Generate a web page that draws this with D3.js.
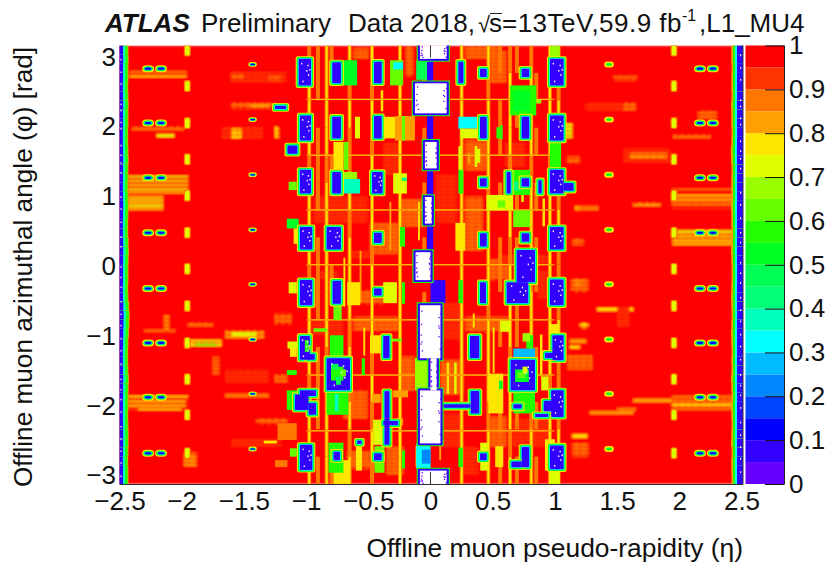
<!DOCTYPE html>
<html><head><meta charset="utf-8">
<script src="https://cdn.jsdelivr.net/npm/d3@7"></script>
<style>
html,body{margin:0;background:#fff}
svg{display:block}
text{font-family:"Liberation Sans",Arial,sans-serif;fill:#111}
</style></head><body>
<svg id="c" width="833" height="562"></svg>
<script>
const palette=["#6600ff","#3300ff","#0000ff","#0044ff","#0088ff","#00bbff","#00ffff","#00ffbb","#00ff77","#00ff55",
"#00ff22","#22ff00","#66ff00","#99ff00","#dfff00","#ffe600","#ffa000","#ff7700","#ff3300","#ff0000"];
const etaTicks=[-2.5,-2,-1.5,-1,-0.5,0,0.5,1,1.5,2,2.5];
const phiTicks=[-3,-2,-1,0,1,2,3];
const effTicks=[0,0.1,0.2,0.3,0.4,0.5,0.6,0.7,0.8,0.9,1];

// every entry: eta0, eta1, phi0, phi1, efficiency
const forwardStreaks=[
[-2.43,-1.95,1.02,1.28,.9],[-2.43,-2.15,.79,.99,.9],
[-2.43,-1.95,1.25,1.27,.72],[-2.43,-1.95,1.19,1.21,.72],[-2.43,-1.95,1.13,1.15,.75],[-2.43,-1.95,1.07,1.09,.72],[-2.43,-1.95,1.03,1.045,.78],
[-2.43,-2.15,.96,.98,.75],[-2.43,-2.15,.92,.94,.72],[-2.43,-2.15,.88,.9,.75],[-2.43,-2.15,.83,.86,.72],[-2.43,-2.15,.79,.81,.78],
[-2.42,-1.96,2.75,2.77,.8],[-2.42,-1.96,2.69,2.71,.78],[-2.2,-2.06,1.83,1.87,.72],[-2.4,-1.98,1.92,1.98,.88],
[-2.43,-1.95,-2.08,-1.87,.9],[-2.43,-1.95,-1.9,-1.88,.78],[-2.43,-1.97,-1.97,-1.95,.75],[-2.43,-1.97,-2.03,-2.01,.78],[-2.35,-2,-2.08,-2.06,.75],
[-1.97,-1.68,-1.18,-1.08,.75],[-1.9,-1.72,-1.17,-1.1,.62],[-1.65,-1.34,-1.06,-.94,.8],[-1.6,-1.4,-1.02,-.97,.72],[-1.95,-1.75,-.89,-.82,.88],
[-1.61,-1.16,2.62,2.76,.9],[-1.6,-1.5,2.66,2.74,.85],[-1.3,-1.2,2.64,2.7,.87],[-1.6,-1.25,2.24,2.33,.88],[-1.45,-1.3,2.26,2.3,.8],
[-1.68,-1.35,1.81,1.97,.9],[-1.6,-1.52,1.8,1.95,.75],[-1.25,-1.22,1.82,1.98,.76],[-1.65,-1.3,-1.68,-1.5,.9],[-1.25,-1.15,-1.68,-1.58,.85],
[-1.4,-1.15,-2.28,-2.2,.87],[-1.6,-1.2,-2.62,-2.5,.9],[-2.3,-2.05,-.96,-.93,.85],[-2.14,-2.1,-.95,-.72,.8],
[-1.75,-1.7,-1.58,-1.32,.85],[-1.25,-1.12,-.85,-.7,.88],[-1.65,-1.3,-1.9,-1.85,.85],[-1.98,-1.88,-2.9,-2.7,.8],
[1.55,1.93,1.47,1.66,.9],[1.6,1.9,1.52,1.6,.8],[1.94,2.43,.8,1.02,.9],[1.94,2.43,.98,1,.78],[1.94,2.43,.92,.94,.78],[1.94,2.43,.86,.88,.8],[1.94,2.43,1.07,1.09,.85],
[1.94,2.43,.28,.49,.85],[1.95,2.43,.46,.49,.72],[1.95,2.43,.4,.42,.75],[1.95,2.43,.34,.36,.75],[1.95,2.43,.29,.31,.78],
[1.63,1.85,.83,.9,.84],[1.25,1.63,2.21,2.33,.9],[1.55,1.65,2.2,2.32,.85],[1.47,1.66,2.64,2.7,.87],[1.1,1.2,1.45,1.55,.85],
[1.63,2.43,-1.97,-1.92,.8],[1.94,2.43,-2.08,-1.88,.88],[1.94,2.43,-2.02,-1.99,.78],[1.34,1.63,-.66,-.62,.78],[1.28,1.63,-2.14,-2.1,.8],
[1.13,1.27,-.39,-.2,.87],[1.15,1.22,-.32,-.22,.8],[1.2,1.27,-.91,-.82,.78],[1.12,1.25,-1.12,-1.07,.8],[1.12,1.2,-1.2,-1.16,.75],
[1.14,1.27,-2.75,-2.55,.85],[1.14,1.26,-2.48,-2.43,.76],[1.1,1.3,-1.5,-1.3,.88],[1.5,1.6,-.9,-.6,.9],[1.5,1.65,-2.1,-2.05,.85],
[1.14,1.23,.28,.38,.85],[1.2,1.35,.78,.84,.88],[1.16,1.2,.78,.84,.8],[1.07,1.14,1.82,2.02,.72],[1.95,2.25,1.8,1.86,.86],[2.15,2.3,2.1,2.2,.87]
];
const forwardStubs=[-1.955,1.957];
const stubPhis=[3.07,2.56,2.03,1.51,.99,.46,-.06,-.59,-1.12,-1.64,-2.15,-2.7];
const spotEtas=[-2.27,-2.166,2.166,2.27];
const spotPhis=[2.81,2.03,1.245,.457,-.34,-1.12,-1.9,-2.7];
const midSpotPhis=[2.87,2.08,1.29,.5,-.28,-1.07,-1.85,-2.64];

const orangeBands=[
[-.245,-.045,.55,.93,.88],[-.486,-.245,.16,.59,.88],[-.94,-.51,.6,.97,.92],[.05,.21,.6,1.3,.9],[.28,.45,1.36,1.78,.87],
[.48,.61,2.6,3.07,.87],[.28,.42,.2,.97,.87],[.465,.625,-.22,.07,.87],[.08,.24,-1.08,-.56,.9],[.28,.62,-.96,-.75,.86],
[.08,.264,-1.85,-1.37,.87],[.08,.264,-2.6,-2.13,.9],[.48,.61,-2.6,-2.18,.87],[.264,.385,-3,-2.6,.9],[-.62,-.245,-.94,-.75,.86],
[-.245,-.125,-1.8,-1.32,.86],[-.62,-.38,-.56,-.37,.87],[-.35,-.22,-3,-2.6,.87],[-.7,-.51,-2.2,-1.8,.87],[-.67,-.38,-2.92,-2.68,.87],
[-.62,-.5,2.95,3.1,.87],[-.38,-.24,1.3,1.75,.92],[-.65,-.47,.1,.2,.9],[-.9,-.75,-.2,-.1,.9],[.55,.95,.0,.15,.92],[.28,.55,2.95,3.14,.88],
[.86,.96,-.5,-.1,.9],[.66,.96,-2.6,-2.2,.92],[-.96,-.7,-1,-.8,.9],[-.2,-.14,2.7,3.14,.87],[.6,.76,1.4,1.75,.92]
];
const ridgeEtas=[-.975,-.905,-.835,-.795,-.65,-.47,-.245,-.05,.25,.465,.56,.64,.695,.81,.85,.96,1.03];
// one mark per 16th of phi from -pi upward: 2 yellow core, 1 orange only, 0 no ridge
const ridgeMasks=["2221222122212221","1011101110111011","2222122222212222","1001000100010001",
"2121212221211212","1212122212221212","2222222222222222","1010101010101010","2222222222222222",
"2212221222122212","1011010110101101","2122122212212221","1010011010100101","2212222122212221",
"1010100110101010","2221222222212222","1211121112111211"];
const partialRidges=[
[-.7,-.685,-.6,.1,.78],[-.57,-.555,-.55,.2,.8],[-.33,-.315,.2,.9,.8],[-.54,-.525,-1.3,-.9,.76],[.13,.15,-1.85,-1.4,.75],[.19,.21,-1.85,-1.4,.72],
[.07,.085,-2.8,-2.6,.8],[.355,.375,1.4,1.7,.72],[.3,.32,1.45,1.6,.8],[.5,.515,-1.55,-.9,.78],[-.12,-.105,-2.9,-2.6,.75],[-.1,-.085,.35,.9,.78],
[.56,.58,1.8,2,.55],[.34,.355,-.9,-.7,.75],[.73,.75,.9,1,.7],[.88,.9,-1.6,-1,.75],[.9,.92,.55,.95,.75],[-.34,-.32,-.55,-.3,.72],[-.4,-.38,2.2,2.5,.78]
];
const lineRows=[2.37,1.57,.785,0,-.79,-1.58,-2.38];
const patches=[
[.64,.85,2.14,2.57,.58],[.66,.8,2.2,2.5,.5],[.85,.89,2.31,2.37,.68],[.224,.384,1.95,2.12,.34],[.24,.384,1.81,1.95,.72],[.53,.56,1.81,1.97,.58],
[.586,.8,1.0,1.36,.55],[.65,.73,1.06,1.2,.4],[.45,.665,.78,1,.74],[.665,.8,.54,.78,.62],[.54,.6,.82,.92,.6],[.224,.264,.26,.54,.5],[.2,.28,.2,.6,.78],
[.224,.264,1.02,1.36,.55],[.224,.25,1.36,1.7,.7],[.36,.4,1.46,1.66,.7],[.96,1.05,1.36,1.78,.56],[.96,1.04,2.95,3.14,.68],[.96,1.04,-3.14,-2.95,.72],
[.666,.84,-2.13,-1.8,.56],[.666,.84,-1.36,-1.2,.28],[.77,.825,-1.2,-1.01,.56],[.465,.585,-2.13,-1.56,.78],[.55,.58,-1.78,-1.66,.5],[.89,.947,-1.8,-1.6,.72],
[.56,.64,-.96,-.8,.74],[.224,.26,-.55,-.22,.58],[.224,.26,-2.9,-2.62,.58],[.52,.585,-2.9,-2.6,.78],[.4,.46,-2.95,-2.55,.72],
[.74,.8,-1.1,-.98,.65],[.96,1.03,-1.05,-.85,.75],[.92,1,-2.95,-2.5,.78],
[-.81,-.59,2.57,2.93,.52],[-.714,-.566,1.02,1.23,.36],[-.714,-.59,1.23,1.33,.66],[-.325,-.22,2.57,2.93,.62],[-.3,-.22,2.8,2.9,.34],[-.285,-.125,1.78,2.13,.8],[-.23,-.205,1.78,2.13,.6],
[-.607,-.567,1.81,2.12,.72],[-.38,-.285,1.81,2.12,.78],[-.7,-.66,1.36,1.76,.6],[-.78,-.7,1.36,1.76,.78],[-.3,-.19,1.02,1.31,.72],[-.23,-.19,1.2,1.25,.4],
[-1.14,-1.075,1.07,1.19,.62],[-1.155,-1.06,.52,.66,.52],[-1.1,-1.07,.3,.52,.76],[-.245,-.205,.26,.54,.55],[-.115,0,2.65,2.93,.45],[-.125,-.0,-1.8,-1.34,.68],[-.115,0,-2.92,-2.56,.3],[-.07,0,-2.85,-2.65,.2],
[-1.14,-1.075,-.41,-.25,.72],[-1.155,-1.075,-1.58,-1.51,.56],[-1.155,-1.05,-2.08,-1.8,.56],[-1.13,-1.075,-1.32,-1.18,.76],[-1.23,-1.075,-2.51,-2.27,.86],[-1.34,-1.235,-2.56,-2.52,.76],
[-1.25,-1.15,-2.9,-2.8,.86],[-1.13,-1.075,-2.75,-2.63,.62],[-.94,-.83,-.96,-.91,.6],[-.81,-.7,-1.34,-1.01,.56],[-.835,-.66,-2.15,-1.8,.56],[-.77,-.74,-2.1,-1.85,.36],
[-.78,-.714,-.79,-.56,.62],[-.78,-.647,-3.14,-2.8,.76],[-.67,-.567,-.58,-.25,.78],[-.38,-.27,-.55,-.25,.72],[-.23,-.205,-.56,-.25,.55],[-.553,-.527,-1.58,-1.34,.56],
[-.325,-.23,-1.1,-1.06,.6],[-.486,-.38,-1.27,-1.01,.76],[-.46,-.38,-2.58,-2.22,.72],[-.45,-.37,-2.98,-2.6,.62],[-.23,-.205,-2.92,-2.66,.56],[-.82,-.7,-2.98,-2.55,.56],
[-.3,-.18,-1.9,-1.8,.8],[-1.15,-1.07,-1.2,-1.1,.72],[-.28,-.22,-2.3,-2.2,.8],[-.47,-.4,-1.98,-1.85,.8],[-.6,-.55,-2.95,-2.6,.78]
];
const wells=[
[-1.06,-.96,2.57,2.95],[-1.05,-.96,1.78,2.14],[-1.05,-.96,1.02,1.36],[-1.05,-.95,.22,.54],[-1.05,-.95,-.58,-.22],[-1.05,-.97,-1.36,-1.02],[-.99,-.93,-1.36,-1.28],
[-1.09,-.98,-2.08,-1.86],[-1.05,-.92,-1.88,-1.8],[-.98,-.92,-2.15,-1.98],[-1.05,-.95,-2.94,-2.58],
[-.79,-.72,2.6,2.9],[-.79,-.72,1.81,2.12],[-.79,-.72,1.02,1.33],[-.835,-.72,.22,.54],[-.787,-.72,-.56,-.23],[-.835,-.647,-1.8,-1.34],[-.78,-.727,-2.8,-2.68],
[-.454,-.392,2.6,2.91],[-.454,-.392,1.81,2.13],[-.47,-.385,1.02,1.33],[-.454,-.392,.31,.46],[-.454,-.392,-.44,-.34],[-.38,-.33,-1.34,-1.02],[-.37,-.33,-2.58,-1.81],
[-.38,-.26,-2.3,-2.24],[-.454,-.392,-2.8,-2.7],[-.59,-.553,-2.57,-2.52],[-1.15,-1.07,1.59,1.71],[-1.25,-1.16,2.23,2.28],
[.96,1.07,2.57,2.95],[.96,1.07,1.78,2.14],[.96,1.07,1.02,1.36],[1.07,1.15,1.06,1.17],[.96,1.07,.22,.54],[.96,1.07,-.58,-.21],[.98,1.07,-1.37,-1.01],[.92,.99,-1.34,-1.26],
[.97,1.07,-2.18,-1.8],[.91,.99,-2.1,-1.95],[.96,1.07,-2.93,-2.59],
[.733,.794,2.69,2.81],[.733,.794,1.81,2.12],[.733,.794,1.12,1.24],[.733,.794,.33,.45],
[.398,.452,2.69,2.81],[.398,.452,1.81,2.12],[.398,.452,1.12,1.24],[.398,.452,.26,.45],[.224,.264,2.6,2.91],[.612,.644,1.02,1.33],[.867,.894,1.02,1.21],
[.612,.786,-.55,-.25],[.693,.84,-.25,.21],[.398,.446,-.55,-.25],[.317,.392,-1.34,-1.02],[.323,.392,-2.13,-1.81],[.398,.452,-2.8,-2.7],[.733,.794,-2.9,-2.61],[.65,.733,-2.9,-2.82],
[.644,.84,-1.8,-1.36],[.666,.733,-2.06,-2],[.84,.947,-2.18,-2.14],[.1,.32,-2.05,-2]
];
const wellInterior=[
[-.8,-.7,-1.66,-1.46,.55],[-.76,-.72,-1.72,-1.6,.45],[-.72,-.68,-1.6,-1.5,.6],[-.8,-.74,-1.5,-1.42,.45],
[.68,.79,-1.68,-1.5,.5],[.7,.76,-1.62,-1.54,.62],[.74,.78,-1.55,-1.46,.7],
[-1.01,-.98,-1.25,-1.08,.55],[-.98,-.95,-1.22,-1.16,.6]
];
const deadZones=[
[-.085,.13,2.95,3.15],[-.125,.13,2.17,2.6],[-.045,.05,1.38,1.76],[-.045,.01,.59,.97],[-.12,0,-.22,.18],
[-.085,.08,-1.34,-.58],[0,.05,-1.8,-1.34],[-.085,.08,-2.56,-1.8],[-.085,.13,-3.15,-2.95]
];
const centreStrip=[[-.028,.022,.18,2.95],[0,.02,-.22,.0],[0,.12,-.55,-.22]];
const speckleSpots=[[.2,.15],[.45,.1],[.7,.22],[.35,.35],[.6,.42],[.25,.55],[.75,.58],[.5,.68],[.3,.82],[.65,.85],[.85,.38],[.15,.72]];
const edgeLeft=[6,6,5,6,7,7,6,5,6,6,7,8,6,5,5,6,8,10,11,9,6,5,6,6,7,8,7,5,5,6,7,6,5,6,6,7,6,5,5,6,6,7,6,5,6,6,7,6];
const edgeRight=[5,6,6,5,7,6,5,6,7,5,6,7,5,6,5,6,7,6,5,6,7,6,5,5,6,7,6,5,6,6,7,5,6,6,5,7,8,6,5,6,6,7,5,6,6,5,6,6];
const edgeSpeckles=[2.95,2.77,2.6,2.31,2.22,2.05,1.96,1.72,1.58,1.47,1.33,.98,.81,.62,.41,.27,-.02,-.17,-.31,-.52,-.7,-.86,-1.05,-1.22,-1.41,-1.63,-1.78,-1.92,-2.1,-2.31,-2.49,-2.66,-2.83,-3.02];

const svg=d3.select("#c");
const x=d3.scaleLinear().domain([-2.5,2.5]).range([119.5,741.5]);
const y=d3.scaleLinear().domain([-Math.PI,Math.PI]).range([484,45.5]);
const z=d3.scaleLinear().domain([0,1]).range([484,45.5]);
const color=d3.scaleQuantize().domain([0,1]).range(palette);

const defs=svg.append("defs");
function blur(id,sd){
  defs.append("filter").attr("id",id).attr("filterUnits","userSpaceOnUse").attr("x",100).attr("y",30).attr("width",660).attr("height",470)
    .append("feGaussianBlur").attr("stdDeviation",sd);
}
blur("soft",0.75);blur("softer",1.3);
defs.append("clipPath").attr("id","plot").append("rect").attr("x",119.5).attr("y",45.5).attr("width",623.5).attr("height",438.5);

// fine rows of a measured colour over the red of the full bins
function rows(v){
  const id="rows"+Math.round(v*100);
  if(defs.select("#"+id).empty()){
    const p=defs.append("pattern").attr("id",id).attr("patternUnits","userSpaceOnUse").attr("width",7).attr("height",4);
    p.append("rect").attr("width",7).attr("height",4).attr("fill",color(.99));
    p.append("rect").attr("width",7).attr("height",2).attr("y",0).attr("fill",color(v));
    p.append("rect").attr("x",2).attr("width",2).attr("height",1).attr("y",3).attr("fill",color(v));
  }
  return `url(#${id})`;
}

const root=svg.append("g").attr("clip-path","url(#plot)");
let map=root.append("g").attr("filter","url(#softer)");
function box(e0,e1,p0,p1,fill,rx){
  map.append("rect").attr("x",x(e0)).attr("y",y(p1)).attr("width",x(e1)-x(e0)).attr("height",y(p0)-y(p1)).attr("fill",fill).attr("rx",rx||0);
}
function cell(r){box(r[0],r[1],r[2],r[3],color(r[4]));}
function stripe(r){box(r[0],r[1],r[2],r[3],(r[3]-r[2])>.06?rows(r[4]):color(r[4]));}
function halo(r,layers,rx){
  layers.forEach(([pad,v])=>box(r[0]-pad,r[1]+pad,r[2]-pad*1.6,r[3]+pad*1.6,color(v),rx));
}
const PI=Math.PI;
box(-2.6,2.6,-PI,PI,color(.99));
forwardStreaks.forEach(stripe);
orangeBands.forEach(stripe);

map=root.append("g").attr("filter","url(#soft)");
forwardStubs.forEach(e=>stubPhis.forEach(p=>{
  halo([e-.018,e+.018,p-.07,p+.07],[[.01,.85],[0,.73]],2);
}));
spotEtas.forEach(e=>spotPhis.forEach(p=>{
  halo([e-.026,e+.026,p-.015,p+.015],[[.022,.76],[.013,.5],[.006,.28],[0,.1]],4);
}));
midSpotPhis.forEach(p=>{
  halo([-1.45,-1.41,p-.012,p+.012],[[.014,.76],[.006,.4],[0,.12]],3);
  halo([1.41,1.46,p-.02,p+.02],[[.014,.76],[0,.52]],3);
});
const sector=d3.scaleBand().domain(d3.range(16)).range([-PI,PI]);
ridgeEtas.forEach((e,i)=>{
  [...ridgeMasks[i]].forEach((m,s)=>{
    const p0=sector(s),p1=p0+sector.bandwidth();
    if(m==="0")return;
    box(e-.016,e+.016,p0,p1,color(.87));
    if(m==="2")box(e-.008,e+.008,p0,p1,color(.76));
  });
});
partialRidges.forEach(cell);
lineRows.forEach(p=>{box(-1,1,p-.011,p+.011,color(.87));box(-.98,.98,p-.005,p+.005,color(.79));});
patches.forEach(cell);
// blue wells carry the same yellow, green, cyan rim
wells.forEach(r=>halo(r,[[.024,.76],[.016,.54],[.007,.34]],2));
wells.forEach(r=>box(r[0],r[1],r[2],r[3],color(.06),1));
wellInterior.forEach(cell);
// edge columns, row by row
const band=d3.scaleBand().domain(d3.range(48)).range([-PI,PI]);
edgeLeft.forEach((w,i)=>{
  const p0=band(i),p1=p0+band.bandwidth(),e=w*.001;
  box(-2.52,-2.44+e*2,p0,p1,color(.8));
  box(-2.52,-2.445+e*1.8,p0,p1,color(.56));
  box(-2.52,-2.463+e*1.5,p0,p1,color(.36));
  box(-2.52,-2.478+e,p0,p1,color(.06));
});
edgeRight.forEach((w,i)=>{
  const p0=band(i),p1=p0+band.bandwidth(),e=w*.001;
  box(2.43-e*2,2.6,p0,p1,color(.8));
  box(2.44-e*1.5,2.6,p0,p1,color(.56));
  box(2.455-e*1,2.6,p0,p1,color(.32));
  box(2.467-e*.5,2.6,p0,p1,color(.06));
});
centreStrip.forEach(r=>box(r[0],r[1],r[2],r[3],color(.06)));
deadZones.forEach(r=>halo(r,[[.026,.55],[.017,.06]],1));
deadZones.forEach(r=>box(r[0],r[1],r[2],r[3],"#fff"));

// empty and nearly empty single bins stay sharp
const bins=root.append("g");
function dot(px,py,w,h,fill){bins.append("rect").attr("x",px).attr("y",py).attr("width",w).attr("height",h).attr("fill",fill);}
wells.filter(r=>(r[1]-r[0])>.08&&(r[3]-r[2])>.25).forEach(r=>{
  speckleSpots.filter((s,i)=>i%2===0).forEach(s=>{
    dot(x(r[0])+s[0]*(x(r[1])-x(r[0])),y(r[3])+s[1]*(y(r[2])-y(r[3])),1.3,1.6,"#fff");
  });
});
edgeSpeckles.forEach(p=>{
  dot(x(-2.492),y(p),1.2,1.6,"#fff");
  dot(x(2.488),y(p+.06),1.2,1.6,"#fff");
});
deadZones.forEach(r=>{
  speckleSpots.forEach((s,i)=>{
    const w=x(r[1])-x(r[0]);
    const px=i%2?x(r[0])+s[0]*.14*w:x(r[1])-s[0]*.14*w, py=y(r[3])+s[1]*(y(r[2])-y(r[3]));
    dot(px,py,1.3,1.3,color(.02));
  });
});

// zero ticks show only on the empty zones
[[-PI,12],[PI,-12]].forEach(([p,l])=>{
  svg.append("line").attr("x1",x(0)).attr("x2",x(0)).attr("y1",y(p)).attr("y2",y(p)-l).attr("stroke","#333").attr("stroke-width",1);
});
// frame
svg.append("path").attr("d",`M${x(-2.5)},484.5H743V45.5`).attr("fill","none").attr("stroke","#333").attr("stroke-width",1);

const fs=26;
const fmt=d=>(d<0?"\u2212":"")+Math.abs(d);
const xAxis=svg.append("g").attr("transform","translate(0,484)").call(d3.axisBottom(x).tickValues(etaTicks).tickSize(0).tickPadding(8).tickFormat(fmt));
xAxis.select(".domain").remove();
xAxis.selectAll("text").attr("font-size",fs).attr("font-family","Liberation Sans").attr("fill","#111");
const yAxis=svg.append("g").attr("transform","translate(116,1.5)").call(d3.axisLeft(y).tickValues(phiTicks).tickSize(0).tickPadding(0).tickFormat(fmt));
yAxis.select(".domain").remove();
yAxis.selectAll("text").attr("font-size",fs).attr("font-family","Liberation Sans").attr("fill","#111");

// palette bar
const bar=svg.append("g");
palette.forEach((c,i)=>{
  bar.append("rect").attr("x",745.5).attr("width",38.5).attr("y",z((i+1)/20)).attr("height",z(i/20)-z((i+1)/20)).attr("fill",c);
});
const zAxis=svg.append("g").attr("transform","translate(784,0)").call(d3.axisRight(z).tickValues(effTicks).tickSize(-19).tickPadding(5).tickFormat(d3.format("~g")));
zAxis.select(".domain").remove();
zAxis.selectAll("line").attr("stroke","#111").attr("stroke-width",1);
zAxis.selectAll("text").attr("font-size",fs).attr("font-family","Liberation Sans").attr("fill","#111").attr("x",5);
svg.append("line").attr("x1",784.5).attr("x2",784.5).attr("y1",45.5).attr("y2",484.5).attr("stroke","#222");

// titles
const tt=svg.append("g").attr("font-size",26);
tt.append("text").attr("x",105).attr("y",32).attr("font-weight","bold").attr("font-style","italic").text("ATLAS");
tt.append("text").attr("x",201).attr("y",32).text("Preliminary");
tt.append("text").attr("x",348).attr("y",32).attr("textLength",127).text("Data 2018,");
tt.append("text").attr("x",478).attr("y",32).attr("font-size",22).attr("font-family","DejaVu Sans").text("\u221A");
tt.append("line").attr("x1",490).attr("x2",502).attr("y1",13.5).attr("y2",13.5).attr("stroke","#222");
tt.append("text").attr("x",489).attr("y",32).text("s");
tt.append("text").attr("x",502).attr("y",32).attr("textLength",179.5).text("=13TeV,59.9 fb");
tt.append("text").attr("x",682).attr("y",21).attr("font-size",16).text("-1");
tt.append("text").attr("x",699).attr("y",32).text(",L1_MU4");

svg.append("text").attr("x",743).attr("y",557).attr("text-anchor","end").attr("font-size",26.4).text("Offline muon pseudo-rapidity (\u03B7)");
svg.append("text").attr("transform","translate(32,487) rotate(-90)").attr("font-size",26.2).text("Offline muon azimuthal angle (\u03C6) [rad]");
</script>
</body></html>
